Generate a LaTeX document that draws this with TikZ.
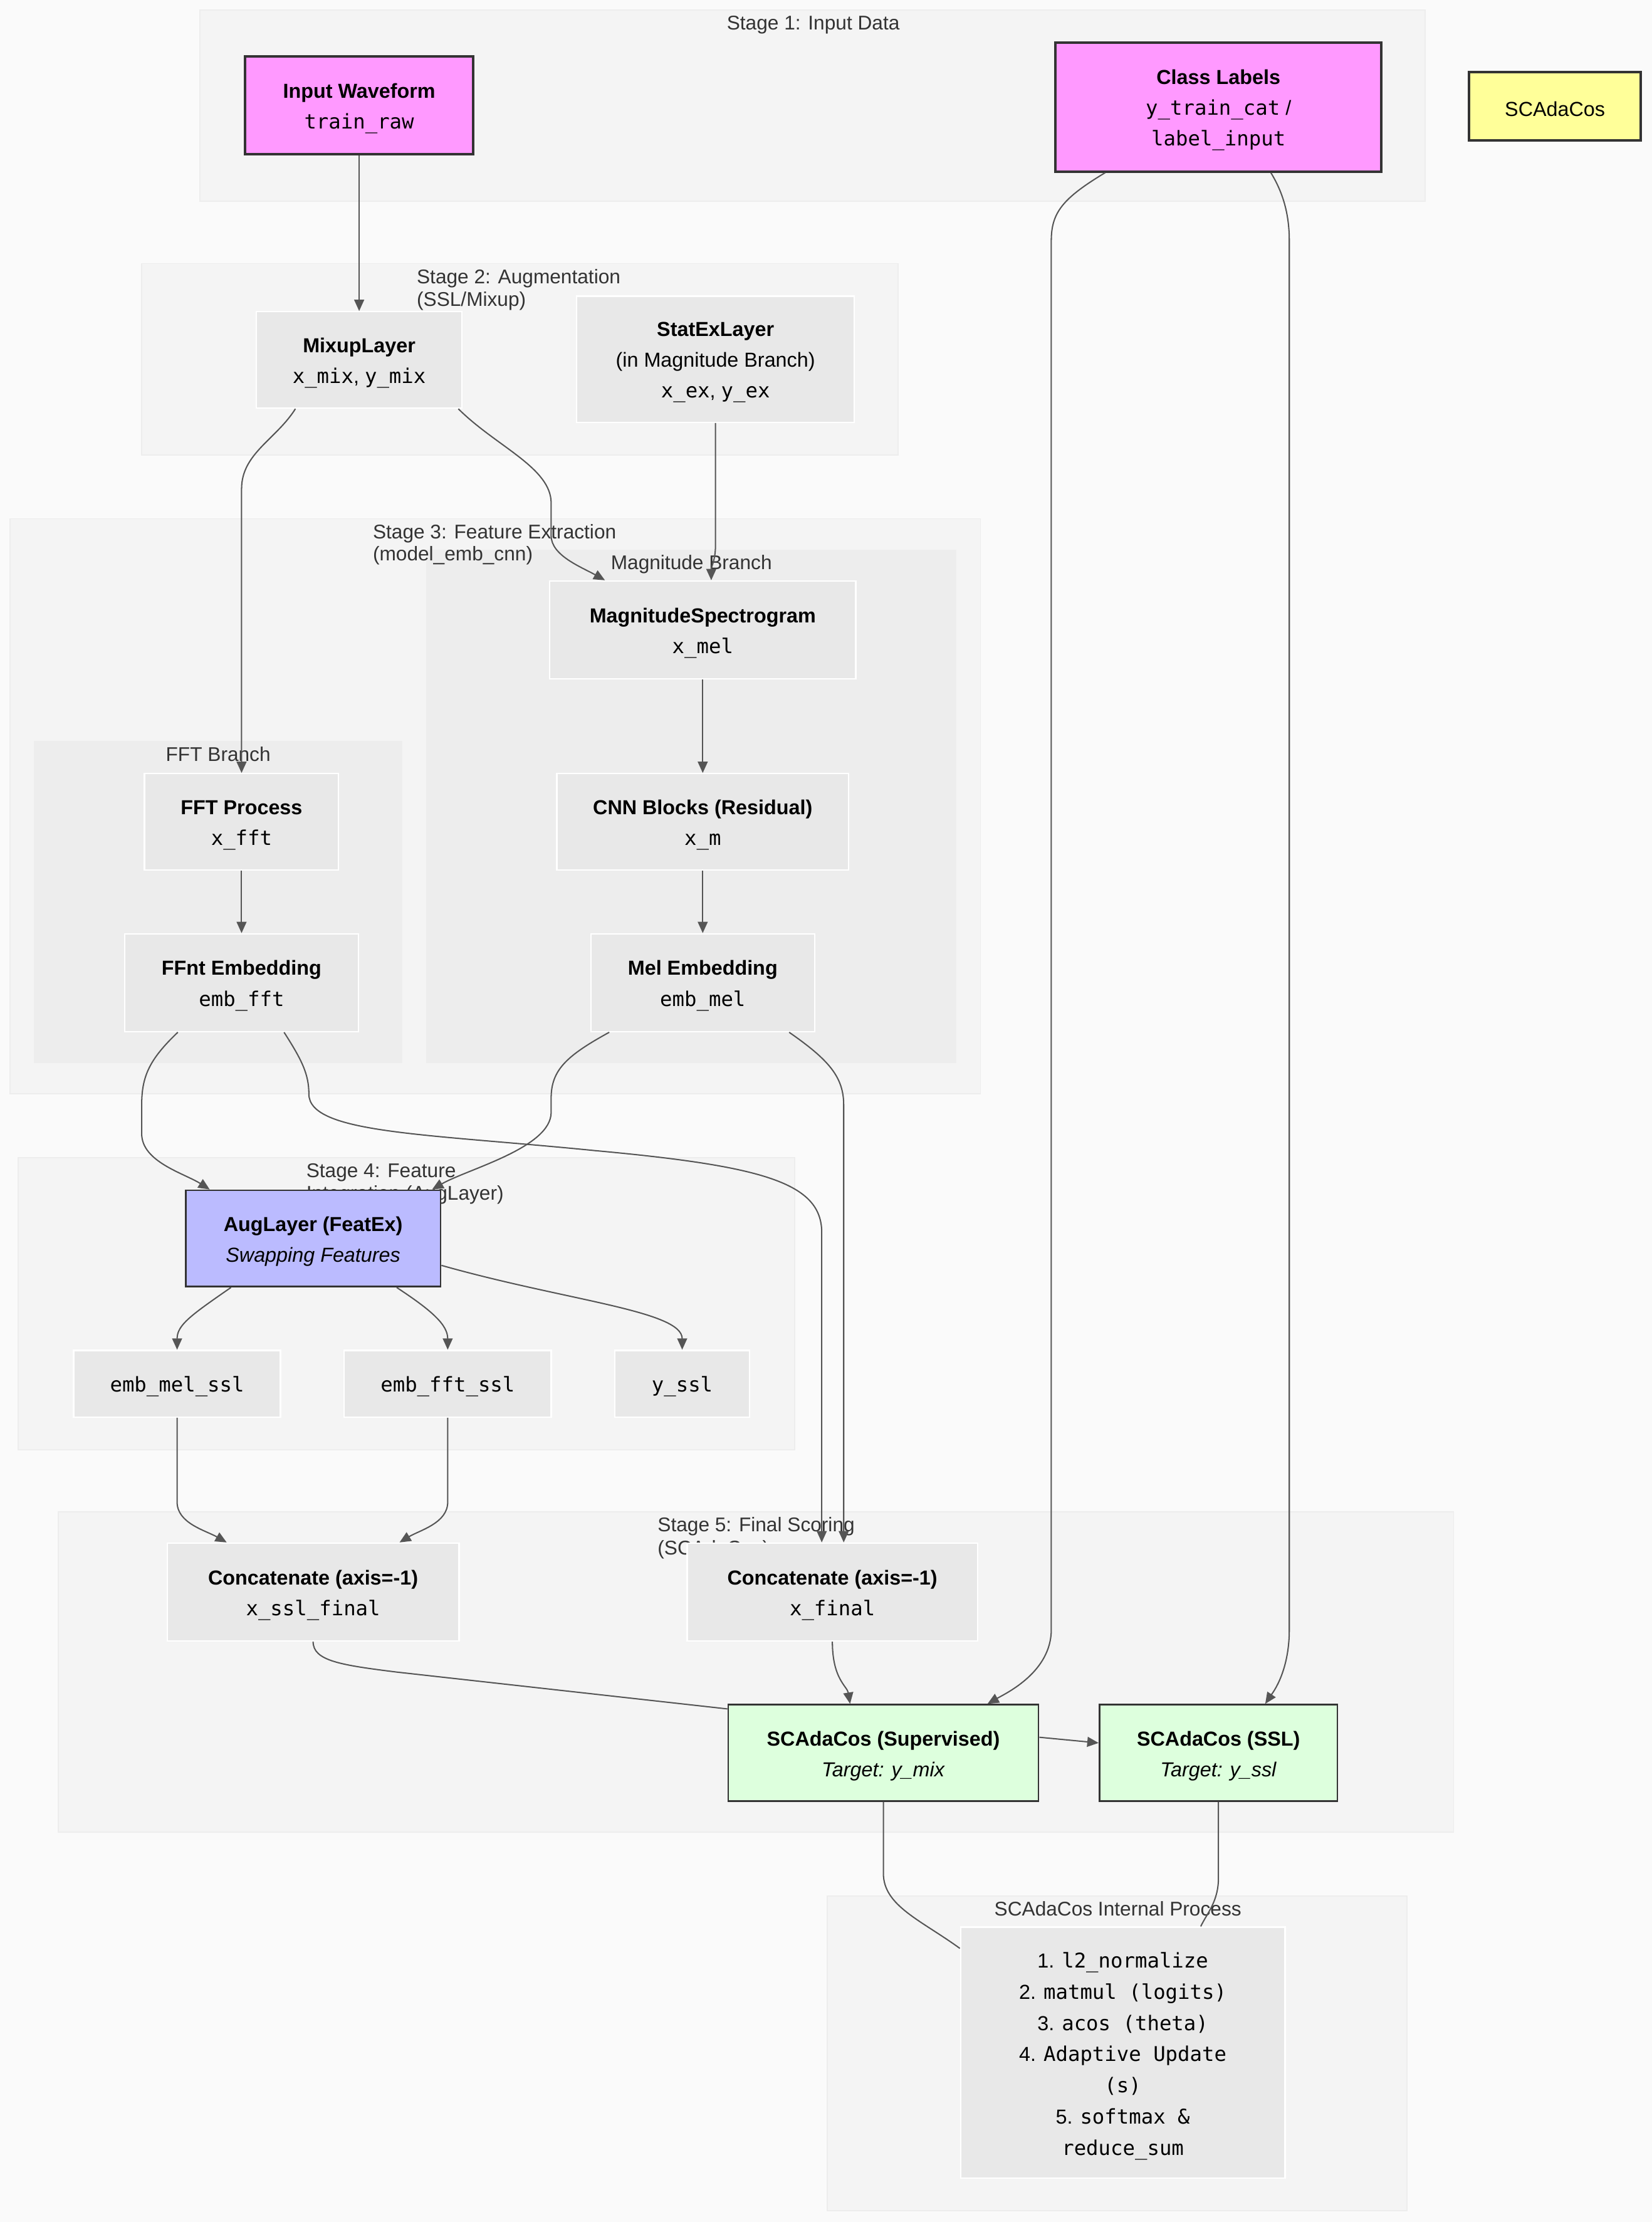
\documentclass[tikz,border=0pt]{standalone}
\usepackage{fontspec}
\setmainfont{Liberation Sans}
\newfontfamily\mono{DejaVu Sans Mono}
\usetikzlibrary{arrows.meta}
\definecolor{bgc}{HTML}{FAFAFA}
\definecolor{clf}{HTML}{F4F4F4}
\definecolor{cld}{HTML}{EDEDED}
\definecolor{subf}{HTML}{EDEDED}
\definecolor{nodeg}{HTML}{E8E8E8}
\definecolor{dk}{HTML}{333333}
\definecolor{edgec}{HTML}{555555}
\definecolor{magc}{HTML}{FF99FF}
\definecolor{bluec}{HTML}{BBBBFF}
\definecolor{greenc}{HTML}{DDFFDD}
\definecolor{yelc}{HTML}{FFFF99}
\definecolor{labc}{HTML}{333333}
\newcommand{\tfix}{\rule{0pt}{14.6pt}}
\begin{document}
\begin{tikzpicture}[x=1pt,y=-1pt,
  sz/.style 2 args={minimum width=#1pt, minimum height=#2pt},
  box/.style={rectangle, inner sep=0pt, align=center, text=black,
    font=\fontsize{14.3}{21.7}\selectfont},
  plainbox/.style={box, fill=nodeg, draw=white, line width=1pt},
  magbox/.style={box, fill=magc, draw=dk, line width=1.8pt},
  bluebox/.style={box, fill=bluec, draw=dk, line width=1.2pt},
  greenbox/.style={box, fill=greenc, draw=dk, line width=1.2pt},
  yelbox/.style={box, fill=yelc, draw=dk, line width=1.8pt},
  cluster/.style={fill=clf, draw=cld, line width=0.8pt},
  subcluster/.style={fill=subf, draw=none},
  clabel/.style={inner sep=0pt, text=labc, font=\fontsize{14}{15.5}\selectfont},
  edge/.style={draw=edgec, line width=0.9pt},
  arr/.style={edge, -{Triangle[length=8pt,width=7pt]}}
]
\useasboundingbox (0,0) rectangle (1166,1568.1);
\fill[bgc] (0,0) rectangle (1166,1568.1);

% clusters
\draw[cluster] (141,7) rectangle (1006,142);
\draw[cluster] (100,186) rectangle (634,321);
\draw[cluster] (7,366) rectangle (692,772);
\fill[subcluster] (301,388) rectangle (675,750);
\fill[subcluster] (24,523) rectangle (284,750);
\draw[cluster] (13,817) rectangle (561,1023);
\draw[cluster] (41,1067) rectangle (1026,1293);
\draw[cluster] (584,1338) rectangle (993,1560);

% cluster labels
\node[clabel, anchor=base] (l1) at (574,21) {Stage 1: Input Data};
\node[clabel, anchor=base west] (l2a) at (294,200) {Stage 2: Augmentation};
\node[clabel, anchor=base west] (l2b) at (294,216) {(SSL/Mixup)};
\node[clabel, anchor=base west] (l3a) at (263,380) {Stage 3: Feature Extraction};
\node[clabel, anchor=base west] (l3b) at (263,395.5) {(model\_emb\_cnn)};
\node[clabel, anchor=base] (l3m) at (488,402) {Magnitude Branch};
\node[clabel, anchor=base] (l3f) at (154,537) {FFT Branch};
\node[clabel, anchor=base west] (l4a) at (216,831) {Stage 4: Feature};
\node[clabel, anchor=base west] (l4b) at (216,847) {Integration (AugLayer)};
\node[clabel, anchor=base west] (l5a) at (464,1081) {Stage 5: Final Scoring};
\node[clabel, anchor=base west] (l5b) at (464,1097) {(SCAdaCos)};
\node[clabel, anchor=base] (l6) at (789,1352) {SCAdaCos Internal Process};

% nodes
\node[magbox, sz={161}{69}] (inwave) at (253.5,74.5) {\tfix\textbf{Input Waveform}\\{\mono train\_raw}};
\node[magbox, sz={230}{91}] (classl) at (860,75.5) {\tfix\textbf{Class Labels}\\{\mono y\_train\_cat} /\\{\mono label\_input}};
\node[yelbox, sz={121}{48}] (scyel) at (1097.5,75) {\tfix SCAdaCos};

\node[plainbox, sz={145}{68}] (mixup) at (253.5,254) {\tfix\textbf{MixupLayer}\\{\mono x\_mix}, {\mono y\_mix}};
\node[plainbox, sz={196}{89}] (statex) at (505,253.5) {\tfix\textbf{StatExLayer}\\(in Magnitude Branch)\\{\mono x\_ex}, {\mono y\_ex}};

\node[plainbox, sz={216}{69}] (magspec) at (496,444.5) {\tfix\textbf{MagnitudeSpectrogram}\\{\mono x\_mel}};
\node[plainbox, sz={206}{68}] (cnn) at (496,580) {\tfix\textbf{CNN Blocks (Residual)}\\{\mono x\_m}};
\node[plainbox, sz={158}{69}] (melemb) at (496,693.5) {\tfix\textbf{Mel Embedding}\\{\mono emb\_mel}};
\node[plainbox, sz={137}{68}] (fftp) at (170.5,580) {\tfix\textbf{FFT Process}\\{\mono x\_fft}};
\node[plainbox, sz={165}{69}] (fftemb) at (170.5,693.5) {\tfix\textbf{FFnt Embedding}\\{\mono emb\_fft}};

\node[bluebox, sz={180}{68}] (aug) at (221,874) {\tfix\textbf{AugLayer (FeatEx)}\\\textit{Swapping Features}};
\node[plainbox, sz={146}{47}] (emss) at (125,976.5) {\tfix{\mono emb\_mel\_ssl}};
\node[plainbox, sz={146}{47}] (efss) at (316,976.5) {\tfix{\mono emb\_fft\_ssl}};
\node[plainbox, sz={95}{47}] (yssl) at (481.5,976.5) {\tfix{\mono y\_ssl}};

\node[plainbox, sz={206}{69}] (cat1) at (221,1123.5) {\tfix\textbf{Concatenate (axis=-1)}\\{\mono x\_ssl\_final}};
\node[plainbox, sz={205}{69}] (cat2) at (587.5,1123.5) {\tfix\textbf{Concatenate (axis=-1)}\\{\mono x\_final}};
\node[greenbox, sz={219}{68}] (scsup) at (623.5,1237) {\tfix\textbf{SCAdaCos (Supervised)}\\\textit{Target: y\_mix}};
\node[greenbox, sz={168}{68}] (scssl) at (860,1237) {\tfix\textbf{SCAdaCos (SSL)}\\\textit{Target: y\_ssl}};

\node[plainbox, sz={229}{177}, font=\fontsize{14.3}{22}\selectfont] (internal) at (792.5,1448.5)
  {\rule{0pt}{16pt}1. {\mono l2\_normalize}\\2. {\mono matmul (logits)}\\3. {\mono acos (theta)}\\4. {\mono Adaptive Update}\\{\mono (s)}\\5. {\mono softmax \&}\\{\mono reduce\_sum}};

% edges
\draw[arr] (inwave.south) -- (mixup.north);
\draw[arr] ([xshift=-45pt]mixup.south) .. controls (195,310) and (170.5,320) .. (170.5,345) -- (fftp.north);
\draw[arr] ([xshift=70pt]mixup.south) .. controls (350,315) and (389,330) .. (389,355) -- (389,378) .. controls (389,392) and (410,400) .. ([xshift=-69pt]magspec.north);
\draw[arr] (statex.south) -- (505,385) .. controls (505,395) and (502,400) .. ([xshift=6pt]magspec.north);
\draw[arr] (magspec.south) -- (cnn.north);
\draw[arr] (cnn.south) -- (melemb.north);
\draw[arr] (fftp.south) -- (fftemb.north);

\draw[arr] ([xshift=-45pt]fftemb.south) .. controls (105,748) and (100,760) .. (100,780) -- (100,800) .. controls (100,820) and (130,828) .. ([xshift=-73pt]aug.north);
\draw[arr] ([xshift=-66pt]melemb.south) .. controls (400,745) and (389,755) .. (389,775) -- (389,785) .. controls (389,810) and (330,825) .. ([xshift=84pt]aug.north);
\draw[arr] ([xshift=30pt]fftemb.south) .. controls (213,748) and (218,758) .. (218,772) .. controls (218,800) and (300,800) .. (420,812) .. controls (540,823) and (580,835) .. (580,870) -- ([xshift=-7.5pt]cat2.north);
\draw[arr] ([xshift=61pt]melemb.south) .. controls (585,748) and (595.5,760) .. (595.5,780) -- ([xshift=8pt]cat2.north);

\draw[arr] ([xshift=-58pt]aug.south) .. controls (135,928) and (125,935) .. (emss.north);
\draw[arr] ([xshift=59pt]aug.south) .. controls (305,925) and (316,935) .. (efss.north);
\draw[arr] ([yshift=-19pt]aug.east) .. controls (400,918) and (481.5,925) .. (yssl.north);

\draw[arr] (emss.south) -- (125,1060) .. controls (125,1075) and (145,1080) .. ([xshift=-61pt]cat1.north);
\draw[arr] (efss.south) -- (316,1060) .. controls (316,1075) and (296,1080) .. ([xshift=61pt]cat1.north);

\draw[edge] (cat1.south) .. controls (221,1172) and (240,1175) .. (280,1180) -- ([yshift=31pt]scsup.west);
\draw[arr] (cat2.south) .. controls (587.5,1185) and (598,1190) .. ([xshift=-23.5pt]scsup.north);
\draw[arr] ([xshift=-80pt]classl.south) .. controls (750,140) and (742,150) .. (742,170) -- (742,1150) .. controls (742,1180) and (710,1195) .. ([xshift=73.5pt]scsup.north);
\draw[arr] ([xshift=37pt]classl.south) .. controls (905,135) and (910,150) .. (910,170) -- (910,1150) .. controls (910,1180) and (898,1195) .. ([xshift=33pt]scssl.north);
\draw[arr] ([yshift=11pt]scsup.east) -- ([yshift=7pt]scssl.west);

\draw[edge] (scsup.south) -- (623.5,1322) .. controls (623.5,1345) and (650,1355) .. ([yshift=73.5pt]internal.west);
\draw[edge] (scssl.south) -- (860,1325) .. controls (860,1342) and (852,1350) .. ([xshift=55pt]internal.north);
\end{tikzpicture}
\end{document}
